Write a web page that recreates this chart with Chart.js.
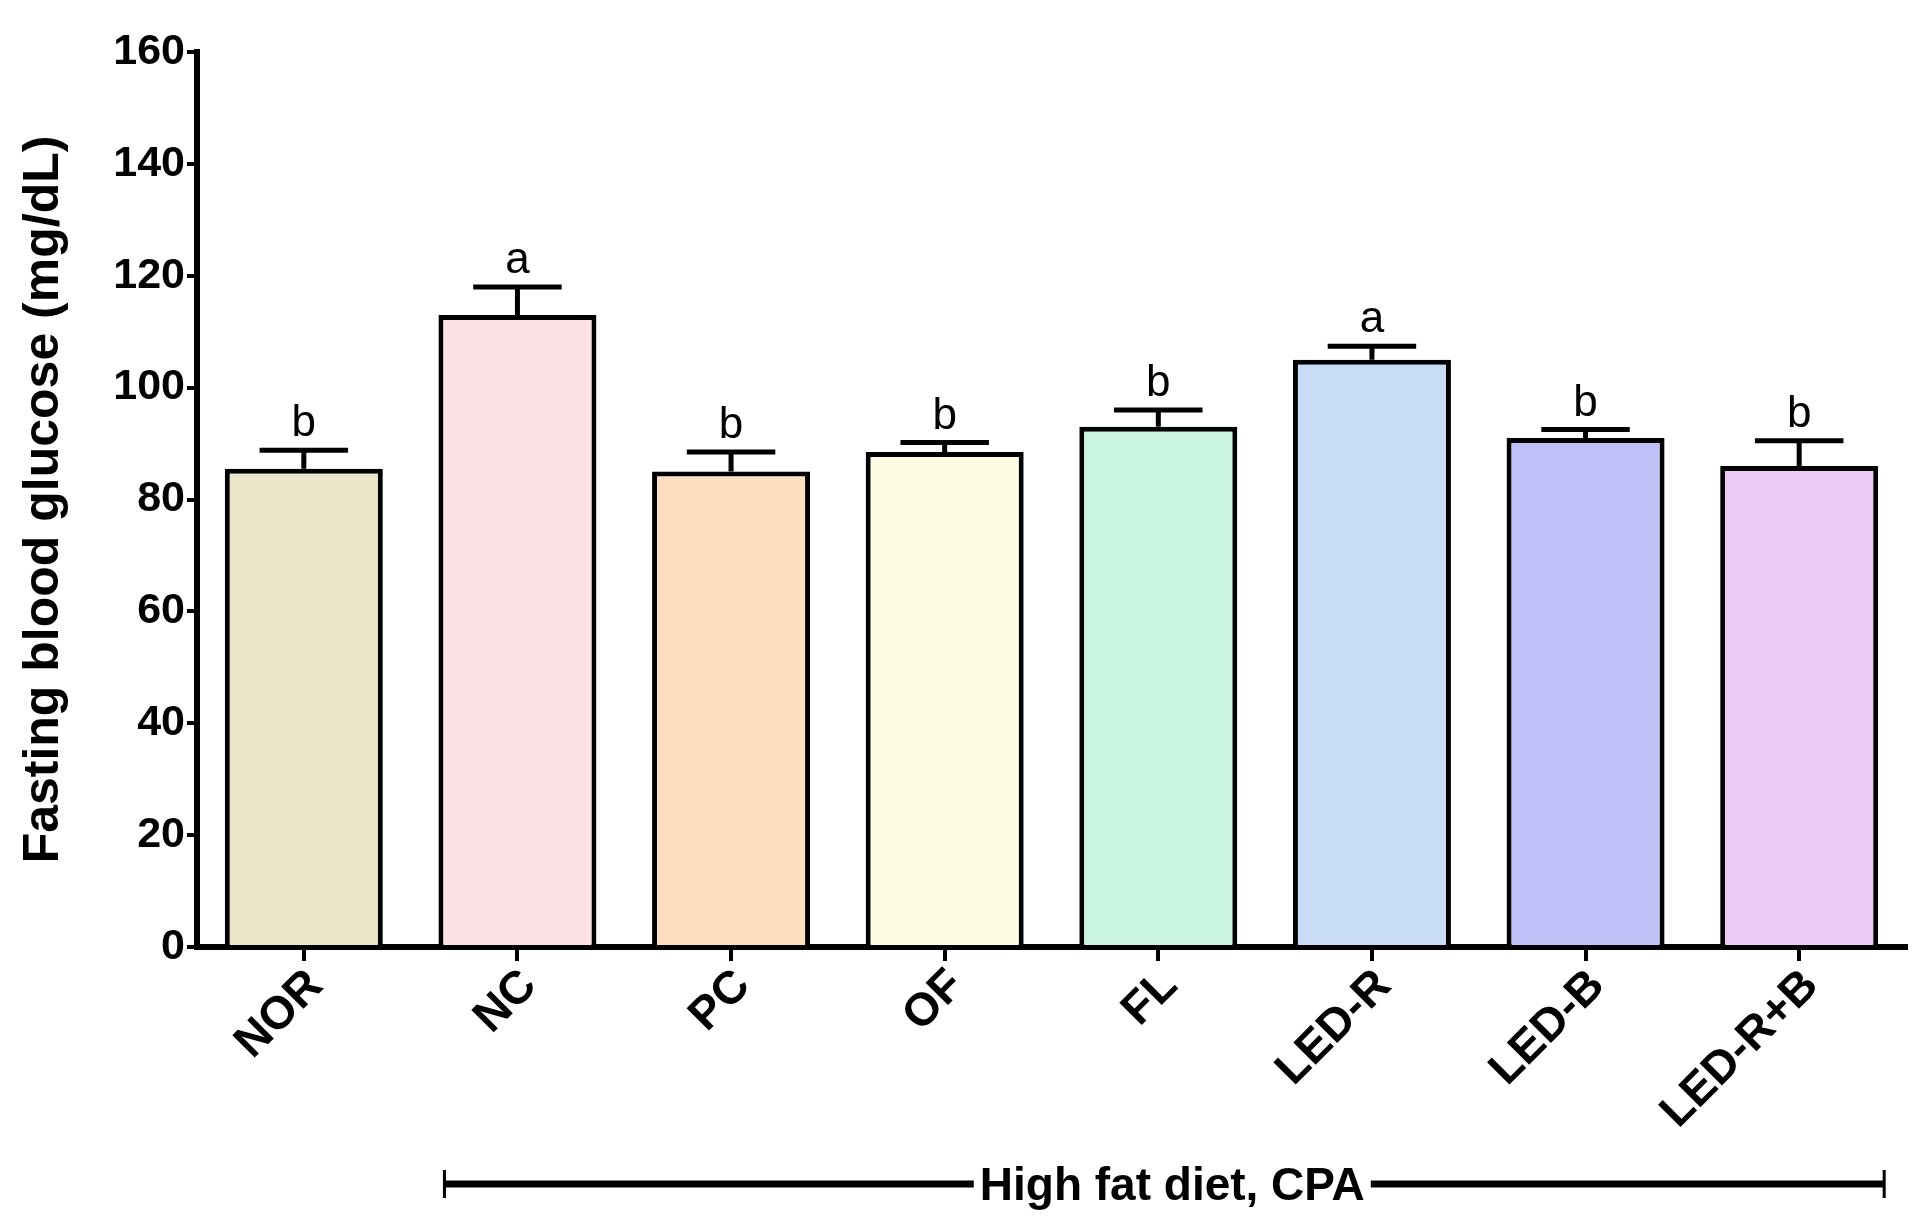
<!DOCTYPE html>
<html>
<head>
<meta charset="utf-8">
<script src="https://cdn.jsdelivr.net/npm/chart.js@4"></script>
<style>
  html, body { margin: 0; padding: 0; background: #fff; }
  #wrap { width: 1928px; height: 1221px; }
</style>
</head>
<body>
<div id="wrap"><canvas id="glucoseChart"></canvas></div>
<script>
const groups = ['NOR', 'NC', 'PC', 'OF', 'FL', 'LED-R', 'LED-B', 'LED-R+B'];
const glucose = [85.5, 113, 85, 88.5, 93, 105, 91, 86];
const sem = [3.3, 5, 3.5, 1.7, 3, 2.4, 1.5, 4.5];
const letters = ['b', 'a', 'b', 'b', 'b', 'a', 'b', 'b'];
const barColors = ['#ebe6c9', '#fde0e4', '#fddfc0', '#fefce2', '#c9f5e2', '#c8dcf6', '#c0c0f9', '#ecccf6'];
const yTicks = [0, 20, 40, 60, 80, 100, 120, 140, 160];
const bracketLabel = 'High fat diet, CPA';

const FONT = '"Liberation Sans", Arial, sans-serif';

// error bars + significance letters
const errorBars = {
    id: 'errorBars',
    afterDatasetsDraw(chart) {
        const ctx = chart.ctx;
        const y = chart.scales.y;
        const meta = chart.getDatasetMeta(0);
        ctx.save();
        ctx.strokeStyle = '#000';
        ctx.lineWidth = 5;
        meta.data.forEach(function(bar, i) {
            const top = y.getPixelForValue(glucose[i] + sem[i]);
            const half = bar.width * 0.28;
            ctx.beginPath();
            ctx.moveTo(bar.x, bar.y);
            ctx.lineTo(bar.x, top);
            ctx.moveTo(bar.x - half, top);
            ctx.lineTo(bar.x + half, top);
            ctx.stroke();
            ctx.fillStyle = '#000';
            ctx.font = '44px ' + FONT;
            ctx.textAlign = 'center';
            ctx.textBaseline = 'bottom';
            ctx.fillText(letters[i], bar.x, top - 4);
        });
        ctx.restore();
    }
};

// bracket under the x labels
const dietBracket = {
    id: 'dietBracket',
    afterDraw(chart) {
        const ctx = chart.ctx;
        const x = chart.scales.x;
        const meta = chart.getDatasetMeta(0);
        const halfW = meta.data[1].width / 2;
        const x0 = x.getPixelForValue(1) - halfW + 6;
        const x1 = x.getPixelForValue(7) + halfW + 6;
        const yb = 1184;
        ctx.save();
        ctx.font = 'bold 46px ' + FONT;
        const mid = (x0 + x1) / 2 + 8;
        const tw = ctx.measureText(bracketLabel).width;
        ctx.strokeStyle = '#000';
        ctx.lineWidth = 7;
        ctx.beginPath();
        ctx.moveTo(x0, yb);
        ctx.lineTo(mid - tw / 2 - 6, yb);
        ctx.moveTo(mid + tw / 2 + 6, yb);
        ctx.lineTo(x1, yb);
        ctx.stroke();
        ctx.lineWidth = 3;
        ctx.beginPath();
        ctx.moveTo(x0, yb - 14);
        ctx.lineTo(x0, yb + 14);
        ctx.moveTo(x1, yb - 14);
        ctx.lineTo(x1, yb + 14);
        ctx.stroke();
        ctx.fillStyle = '#000';
        ctx.textAlign = 'center';
        ctx.textBaseline = 'middle';
        ctx.fillText(bracketLabel, mid, yb + 3);
        ctx.restore();
    }
};

new Chart(document.getElementById('glucoseChart').getContext('2d'), {
    type: 'bar',
    data: {
        labels: groups,
        datasets: [{
            data: glucose,
            backgroundColor: barColors,
            borderColor: '#000',
            borderWidth: 5,
            categoryPercentage: 0.86,
            barPercentage: 0.86
        }]
    },
    options: {
        responsive: true,
        maintainAspectRatio: false,
        animation: false,
        layout: {
            padding: { top: 52, right: 22, bottom: 0, left: 0 }
        },
        plugins: {
            legend: { display: false },
            tooltip: { enabled: false }
        },
        scales: {
            x: {
                offset: true,
                afterFit: function(scale) { scale.height = 274; },
                border: { color: '#000', width: 6 },
                grid: {
                    offset: false,
                    drawOnChartArea: false,
                    color: '#000',
                    lineWidth: 4,
                    tickLength: 14
                },
                ticks: {
                    color: '#000',
                    minRotation: 45,
                    maxRotation: 45,
                    padding: -2,
                    labelOffset: 12,
                    font: { family: FONT, size: 46, weight: 'bold' }
                }
            },
            y: {
                min: 0,
                max: 160,
                afterFit: function(scale) { scale.width = 197; },
                afterBuildTicks: function(scale) {
                    scale.ticks = yTicks.map(function(v) { return { value: v }; });
                },
                border: { color: '#000', width: 6 },
                grid: {
                    drawOnChartArea: false,
                    color: '#000',
                    lineWidth: 4,
                    tickLength: 10
                },
                ticks: {
                    color: '#000',
                    padding: 2,
                    font: { family: FONT, size: 43, weight: 'bold' }
                },
                title: {
                    display: true,
                    text: 'Fasting blood glucose (mg/dL)',
                    color: '#000',
                    padding: { top: 14, bottom: 0 },
                    font: { family: FONT, size: 50, weight: 'bold' }
                }
            }
        }
    },
    plugins: [errorBars, dietBracket]
});
</script>
</body>
</html>
